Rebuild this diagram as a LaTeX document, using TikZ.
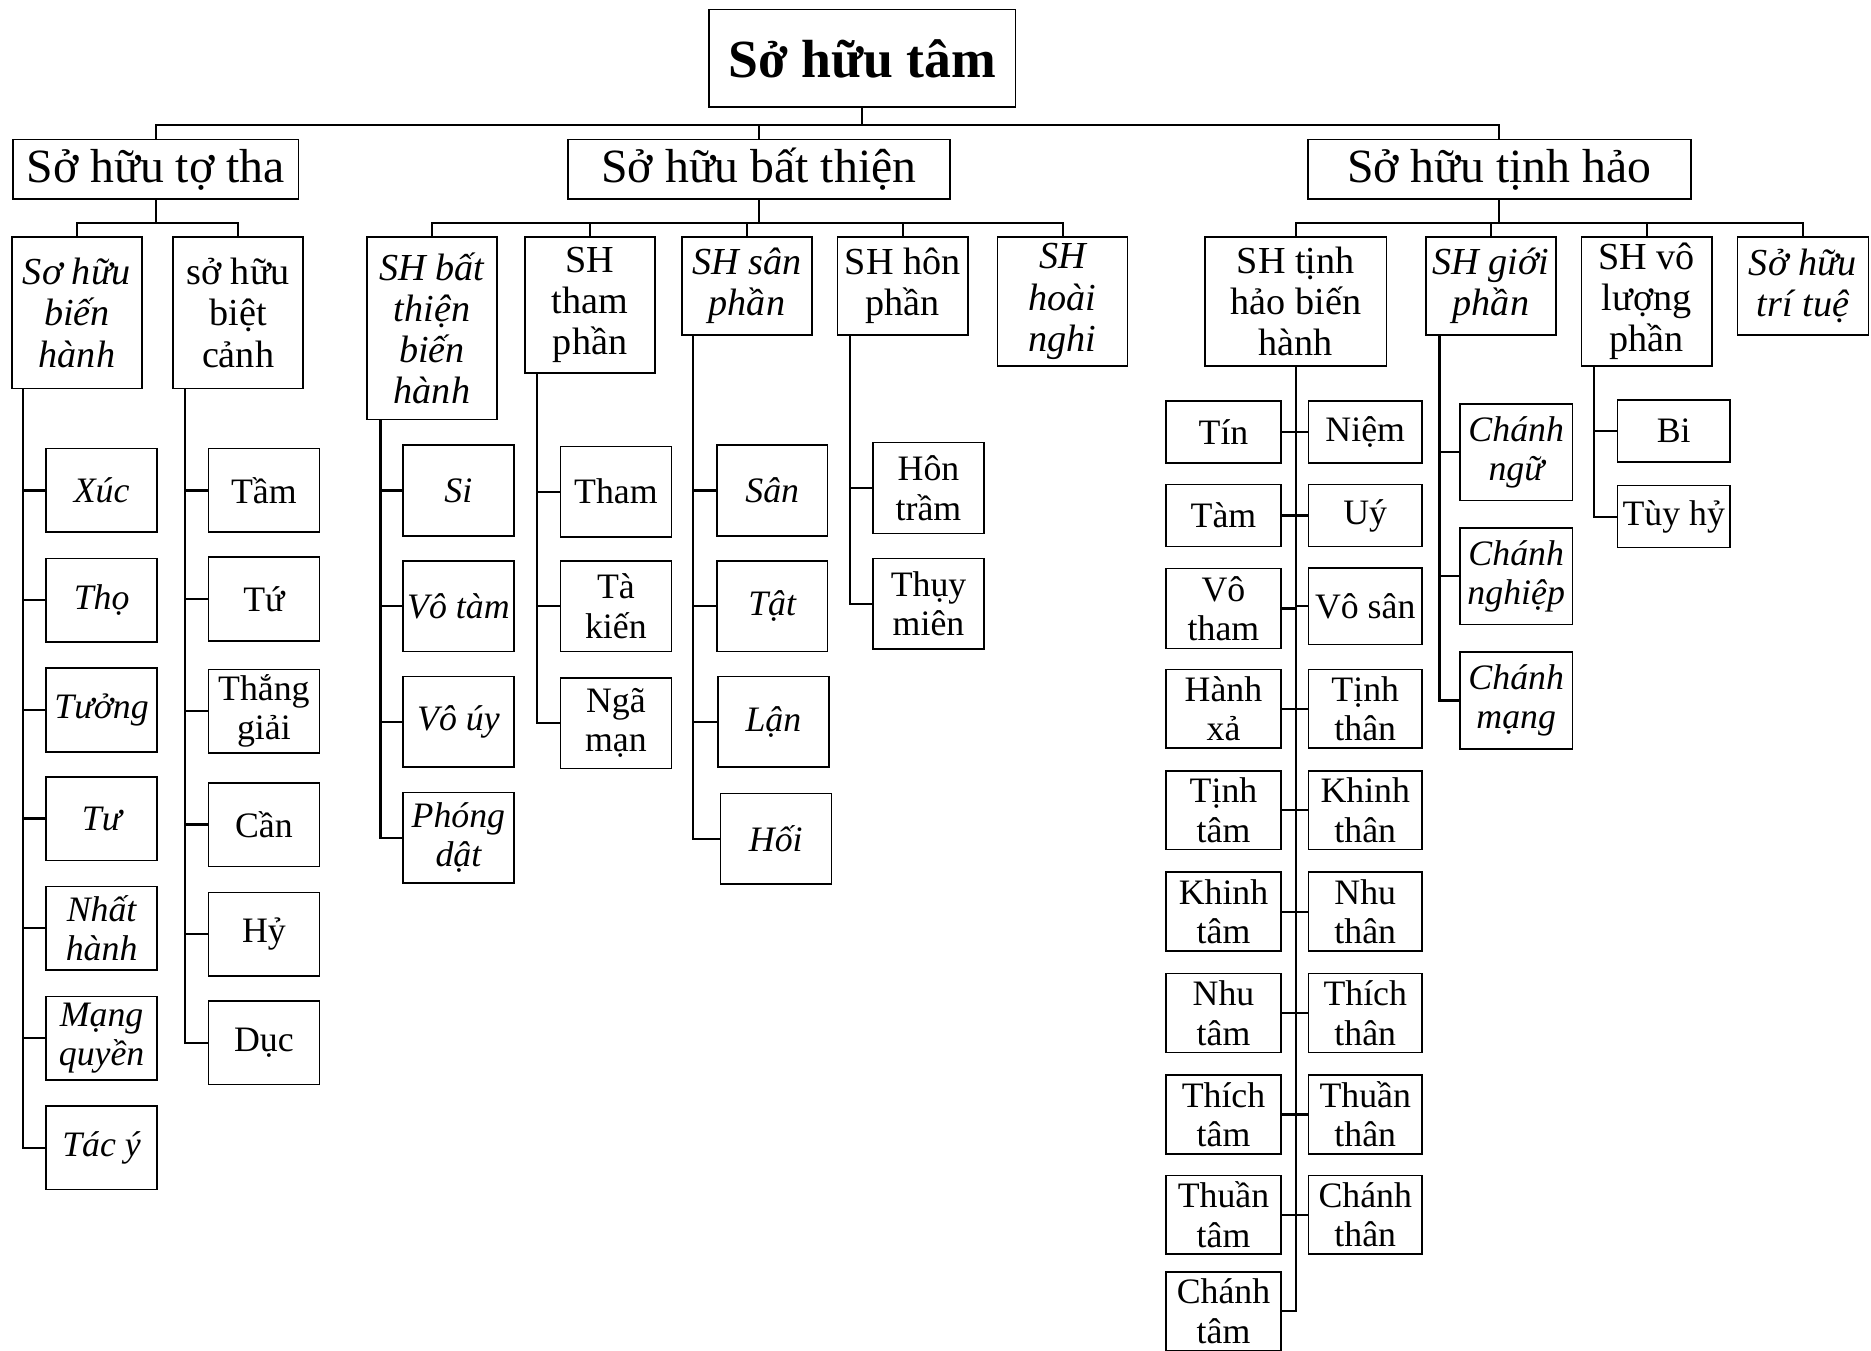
\documentclass[tikz,border=0pt]{standalone}
\usepackage{fontspec}
\setmainfont{Liberation Serif}
\usetikzlibrary{positioning}
\newcommand\leafsize{\fontsize{30}{33}\selectfont}
\newcommand\subsize{\fontsize{32}{34.5}\selectfont}
\tikzset{
  box/.style={draw, line width=1.3pt, inner sep=0pt, align=center},
  root/.style={box, line width=1.6pt, font=\fontsize{45}{50}\selectfont\bfseries},
  grp/.style={box, minimum height=50pt, font=\fontsize{40}{46}\selectfont},
  sub/.style={box, anchor=north, minimum width=109pt, font=\subsize},
  isub/.style={sub, font=\subsize\itshape},
  leaf/.style={box, minimum width=93pt, font=\leafsize},
  ileaf/.style={leaf, font=\leafsize\itshape},
  link/.style={line width=1.8pt},
}
\begin{document}
\begin{tikzpicture}[x=1pt, y=-1pt]
  \useasboundingbox (0,0) rectangle (1568,1132);
  % root and the three groups
  \node[root, minimum width=257pt, minimum height=82pt] (root) at (722.5,49) {Sở hữu tâm};
  \node[grp, minimum width=239pt] (tha) at (130.5,142) {Sở hữu tợ tha};
  \node[grp, minimum width=320pt] (bt) at (636,142) {Sở hữu bất thiện};
  \node[grp, minimum width=321pt] (th) at (1256.5,142) {Sở hữu tịnh hảo};
  \foreach \n in {tha,bt,th}
    \draw[link] (root.south) -- ++(0,14) -| (\n.north);

  % second level
  \node[isub, minimum height=127pt] (sbh) at (64.5,198) {Sơ hữu\\biến\\hành};
  \node[sub, minimum height=127pt] (sbc) at (199.5,198) {sở hữu\\biệt\\cảnh};
  \node[isub, minimum height=153pt] (btb) at (362,198) {SH bất\\thiện\\biến\\hành};
  \node[sub, minimum height=114pt] (stp) at (494.5,198) {SH\\tham\\phần};
  \node[isub, minimum height=82pt] (ssp) at (626,198) {SH sân\\phần};
  \node[sub, minimum height=82pt] (shp) at (756.5,198) {SH hôn\\phần};
  \node[isub, minimum height=108pt] (shn) at (890.5,198) {SH\\hoài\\nghi};
  \node[sub, minimum width=152pt, minimum height=108pt] (thb) at (1086,198) {SH tịnh\\hảo biến\\hành};
  \node[isub, minimum height=82pt] (sgp) at (1249.5,198) {SH giới\\phần};
  \node[sub, minimum height=108pt] (svl) at (1380,198) {SH vô\\lượng\\phần};
  \node[isub, minimum width=110pt, minimum height=82pt] (stt) at (1511,198) {Sở hữu\\trí tuệ};
  \foreach \n in {sbh,sbc}
    \draw[link] (tha.south) -- ++(0,19) -| (\n.north);
  \foreach \n in {btb,stp,ssp,shp,shn}
    \draw[link] (bt.south) -- ++(0,19) -| (\n.north);
  \foreach \n in {thb,sgp,svl,stt}
    \draw[link] (th.south) -- ++(0,19) -| (\n.north);

  % leaves: so huu bien hanh
  \foreach \y/\t [count=\i] in {411/Xúc, 503/Thọ, 595/Tưởng, 686/Tư, 778/{Nhất\\hành},
      870/{Mạng\\quyền}, 962/{Tác ý}} {
    \node[ileaf, minimum height=70pt, anchor=west] (bh\i) at (38,\y) {\t};
    \draw[link] ([xshift=10pt]sbh.south west) |- (bh\i.west);
  }
  % biet canh
  \foreach \y/\t [count=\i] in {411/Tầm, 502/Tứ, 596/{Thắng\\giải}, 691/Cần, 783/Hỷ, 874/Dục} {
    \node[leaf, minimum height=70pt, anchor=west] (bc\i) at (174,\y) {\t};
    \draw[link] ([xshift=11pt]sbc.south west) |- (bc\i.west);
  }
  % bat thien bien hanh
  \foreach \y/\t [count=\i] in {411/Si, 508/{Vô tàm}, 605/{Vô úy}, 702/{Phóng\\dật}} {
    \node[ileaf, minimum height=76pt, anchor=west] (bb\i) at (337,\y) {\t};
    \draw[link] ([xshift=12pt]btb.south west) |- (bb\i.west);
  }
  % tham phan
  \foreach \y/\t [count=\i] in {412/Tham, 508/{Tà\\kiến}, 606/{Ngã\\mạn}} {
    \node[leaf, minimum height=76pt, anchor=west] (tp\i) at (469,\y) {\t};
    \draw[link] ([xshift=11pt]stp.south west) |- (tp\i.west);
  }
  % san phan
  \foreach \y/\x/\t [count=\i] in {411/600/Sân, 508/600/Tật, 605/601/Lận, 703/603/Hối} {
    \node[ileaf, minimum height=76pt, anchor=west] (sp\i) at (\x,\y) {\t};
    \draw[link] ([xshift=10pt]ssp.south west) |- (sp\i.west);
  }
  % hon phan
  \foreach \y/\t [count=\i] in {409/{Hôn\\trầm}, 506/{Thụy\\miên}} {
    \node[leaf, minimum height=76pt, anchor=west] (hp\i) at (731,\y) {\t};
    \draw[link] ([xshift=11pt]shp.south west) |- (hp\i.west);
  }
  % tinh hao bien hanh, two columns
  \foreach \y/\h/\t [count=\i] in {362/52/Tín, 432/52/Tàm, 510/67/{Vô\\tham}, 594/66/{Hành\\xả},
      679/66/{Tịnh\\tâm}, 764/66/{Khinh\\tâm}, 849/66/{Nhu\\tâm}, 934/66/{Thích\\tâm},
      1018/66/{Thuần\\tâm}, 1099/66/{Chánh\\tâm}} {
    \node[leaf, minimum width=96pt, minimum height=\h pt, anchor=east] (tl\i) at (1074,\y) {\t};
    \draw[link] (thb.south) |- (tl\i.east);
  }
  \foreach \y/\h/\t [count=\i] in {362/52/Niệm, 432/52/Uý, 508/64/{Vô sân}, 594/66/{Tịnh\\thân},
      679/66/{Khinh\\thân}, 764/66/{Nhu\\thân}, 849/66/{Thích\\thân}, 934/66/{Thuần\\thân},
      1018/66/{Chánh\\thân}} {
    \node[leaf, minimum width=95pt, minimum height=\h pt, anchor=west] (tr\i) at (1096,\y) {\t};
    \draw[link] (thb.south) |- (tr\i.west);
  }
  % gioi phan
  \foreach \y/\t [count=\i] in {379/{Chánh\\ngữ}, 483/{Chánh\\nghiệp}, 587/{Chánh\\mạng}} {
    \node[ileaf, minimum width=94pt, minimum height=81pt, anchor=west] (gp\i) at (1223,\y) {\t};
    \draw[link] ([xshift=12pt]sgp.south west) |- (gp\i.west);
  }
  % vo luong phan
  \foreach \y/\t [count=\i] in {361/Bi, 433/{Tùy hỷ}} {
    \node[leaf, minimum width=94pt, minimum height=52pt, anchor=west] (vl\i) at (1355,\y) {\t};
    \draw[link] ([xshift=11pt]svl.south west) |- (vl\i.west);
  }
\end{tikzpicture}
\end{document}
